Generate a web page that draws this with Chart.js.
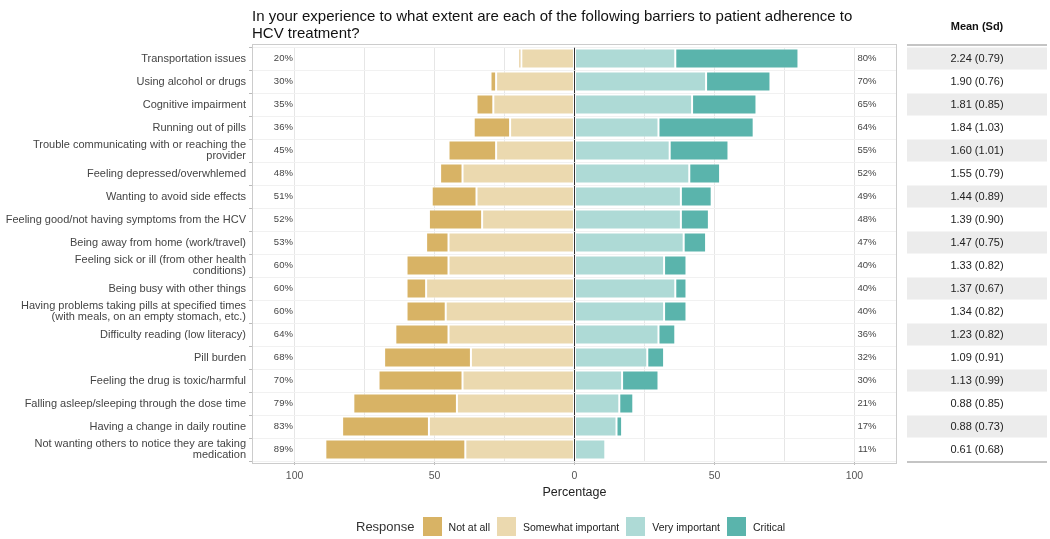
<!DOCTYPE html>
<html>
<head>
<meta charset="utf-8">
<script src="https://cdn.jsdelivr.net/npm/chart.js@4"></script>
<style>
  body { margin: 0; background: #fff; font-family: "Liberation Sans", Arial, sans-serif; }
  #wrap { position: relative; width: 1050px; height: 539px; }
  #titulo { position: absolute; left: 252px; top: 7px; font-size: 15px; line-height: 17px; color: #111; }
  #legenda { position: absolute; left: 356px; top: 517px; display: flex; align-items: center; font-size: 10.5px; color: #222; }
  #legenda .nome { font-size: 13px; color: #333; margin-right: 8px; }
  #legenda .caixa { width: 19px; height: 19px; margin-right: 7px; }
  #legenda .rot { margin-right: 7px; }
</style>
</head>
<body>
<div id="wrap">
  <canvas id="likertChart" width="1050" height="539"></canvas>
  <div id="titulo">In your experience to what extent are each of the following barriers to patient adherence to<br>HCV treatment?</div>
  <div id="legenda"></div>
</div>
<script>
const categorias = [
  'Transportation issues',
  'Using alcohol or drugs',
  'Cognitive impairment',
  'Running out of pills',
  ['Trouble communicating with or reaching the', 'provider'],
  'Feeling depressed/overwhlemed',
  'Wanting to avoid side effects',
  'Feeling good/not having symptoms from the HCV',
  'Being away from home (work/travel)',
  ['Feeling sick or ill (from other health', 'conditions)'],
  'Being busy with other things',
  ['Having problems taking pills at specified times', '(with meals, on an empty stomach, etc.)'],
  'Difficulty reading (low literacy)',
  'Pill burden',
  'Feeling the drug is toxic/harmful',
  'Falling asleep/sleeping through the dose time',
  'Having a change in daily routine',
  ['Not wanting others to notice they are taking', 'medication']
];

// percentuais de cada resposta
const notAtAll  = [1, 2, 6, 13, 17, 8, 16, 19, 8, 15, 7, 14, 19, 31, 30, 37, 31, 50];
const somewhat  = [19, 28, 29, 23, 28, 40, 35, 33, 45, 45, 53, 46, 45, 37, 40, 42, 52, 39];
const veryImp   = [36, 47, 42, 30, 34, 41, 38, 38, 39, 32, 36, 32, 30, 26, 17, 16, 15, 11];
const critical  = [44, 23, 23, 34, 21, 11, 11, 10, 8, 8, 4, 8, 6, 6, 13, 5, 2, 0];

const medias = ['2.24', '1.90', '1.81', '1.84', '1.60', '1.55', '1.44', '1.39', '1.47', '1.33', '1.37', '1.34', '1.23', '1.09', '1.13', '0.88', '0.88', '0.61'];
const desvios = ['0.79', '0.76', '0.85', '1.03', '1.01', '0.79', '0.89', '0.90', '0.75', '0.82', '0.67', '0.82', '0.82', '0.91', '0.99', '0.85', '0.73', '0.68'];

const xTicks = [-100, -75, -50, -25, 0, 25, 50, 75, 100];

const cores = {
  notAtAll: '#D8B365',
  somewhat: '#EBD9AF',
  veryImp: '#AEDAD6',
  critical: '#5AB4AC'
};

// legenda em HTML
const legenda = document.getElementById('legenda');
legenda.innerHTML = '<span class="nome">Response</span>' +
  [['Not at all', cores.notAtAll], ['Somewhat important', cores.somewhat], ['Very important', cores.veryImp], ['Critical', cores.critical]]
    .map(([t, c]) => `<span class="caixa" style="background:${c}"></span><span class="rot">${t}</span>`).join('');

const fonte = '"Liberation Sans", Arial, sans-serif';

// rótulos de %, borda do painel e tabela de média (sd)
const extras = {
  id: 'extras',
  afterDraw(chart) {
    const { ctx, chartArea, scales } = chart;
    const x = scales.x, y = scales.y;
    ctx.save();
    ctx.strokeStyle = '#cccccc';
    ctx.lineWidth = 1;
    ctx.strokeRect(chartArea.left + 0.5, chartArea.top - 2.5, chartArea.right - chartArea.left - 1, chartArea.bottom - chartArea.top + 5);

    ctx.font = '9.5px ' + fonte;
    ctx.fillStyle = '#444';
    ctx.textAlign = 'center';
    ctx.textBaseline = 'middle';
    categorias.forEach((c, i) => {
      const yy = y.getPixelForValue(i);
      ctx.fillText((notAtAll[i] + somewhat[i]) + '%', x.getPixelForValue(-104), yy);
      ctx.fillText((veryImp[i] + critical[i]) + '%', x.getPixelForValue(104.5), yy);
    });

    // tabela
    const tLeft = chartArea.right + 10, tRight = 1047, tMid = (tLeft + tRight) / 2;
    const passo = (chartArea.bottom - chartArea.top) / categorias.length;
    ctx.font = 'bold 11px ' + fonte;
    ctx.fillStyle = '#111';
    ctx.fillText('Mean (Sd)', tMid, 27);
    categorias.forEach((c, i) => {
      const yy = y.getPixelForValue(i);
      if (i % 2 === 0) {
        ctx.fillStyle = '#ececec';
        ctx.fillRect(tLeft, yy - passo / 2 + 0.5, tRight - tLeft, passo - 1);
      }
      ctx.font = '11px ' + fonte;
      ctx.fillStyle = '#222';
      ctx.fillText(medias[i] + ' (' + desvios[i] + ')', tMid, yy);
    });
    ctx.strokeStyle = '#c4c4c4';
    ctx.lineWidth = 2;
    ctx.beginPath();
    ctx.moveTo(tLeft, chartArea.top - 2); ctx.lineTo(tRight, chartArea.top - 2);
    ctx.moveTo(tLeft, chartArea.bottom + 1); ctx.lineTo(tRight, chartArea.bottom + 1);
    ctx.stroke();
    ctx.restore();
  }
};

const estiloBarra = { borderColor: 'rgba(255,255,255,0.7)', borderWidth: 1, borderSkipped: false, barPercentage: 0.87, categoryPercentage: 1 };

const ctx = document.getElementById('likertChart').getContext('2d');
const grafico = new Chart(ctx, {
  type: 'bar',
  data: {
    labels: categorias,
    datasets: [
      { label: 'Somewhat important', data: somewhat.map(v => -v), backgroundColor: cores.somewhat, ...estiloBarra },
      { label: 'Not at all', data: notAtAll.map(v => -v), backgroundColor: cores.notAtAll, ...estiloBarra },
      { label: 'Very important', data: veryImp, backgroundColor: cores.veryImp, ...estiloBarra },
      { label: 'Critical', data: critical, backgroundColor: cores.critical, ...estiloBarra }
    ]
  },
  options: {
    indexAxis: 'y',
    responsive: false,
    animation: false,
    layout: { padding: { top: 47, right: 153, bottom: 37, left: 0 } },
    scales: {
      x: {
        stacked: true,
        min: -115.2,
        max: 115.2,
        afterBuildTicks: s => { s.ticks = xTicks.map(v => ({ value: v })); },
        afterFit: s => { s.height = 41; },
        ticks: {
          autoSkip: false,
          maxRotation: 0,
          padding: 5,
          color: '#555',
          font: { family: fonte, size: 10.5 },
          callback: v => (v % 50 === 0 ? Math.abs(v) : '')
        },
        grid: {
          color: c => (c.tick && c.tick.value === 0 ? '#333' : '#e6e6e6'),
          tickColor: c => (c.tick && c.tick.value % 50 === 0 ? '#bbb' : 'rgba(0,0,0,0)'),
          tickLength: 4
        },
        border: { display: false },
        title: { display: true, text: 'Percentage', color: '#222', font: { family: fonte, size: 12.5 }, padding: { top: 0, bottom: 2 } }
      },
      y: {
        stacked: true,
        afterFit: s => { s.width = 252; },
        ticks: { autoSkip: false, color: '#444', font: { family: fonte, size: 11, lineHeight: 0.95 }, padding: 3 },
        grid: { color: '#f1f1f1', tickColor: '#bbb', tickLength: 3 },
        border: { display: false }
      }
    },
    plugins: {
      legend: { display: false },
      tooltip: { enabled: false }
    }
  },
  plugins: [extras]
});
</script>
</body>
</html>
